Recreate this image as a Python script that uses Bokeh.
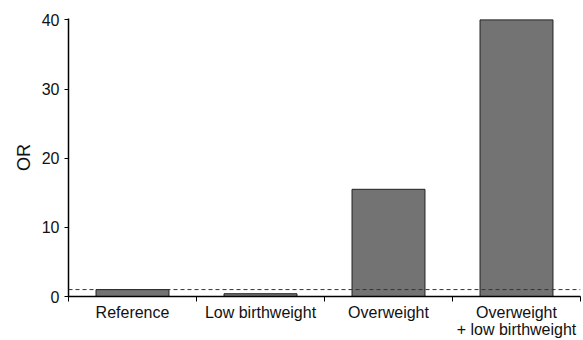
from bokeh.plotting import figure
from bokeh.models import FixedTicker, Span, Range1d
from bokeh.embed import file_html
from bokeh.resources import INLINE

categories = ["Reference", "Low birthweight", "Overweight", "Overweight\n+ low birthweight"]
odds_ratios = [1.0, 0.4, 15.5, 40.0]
y_ticks = [0, 10, 20, 30, 40]
reference_line = 1.0

FONT = "Liberation Sans"

x_centers = [i + 0.5 for i in range(len(categories))]
boundaries = list(range(len(categories) + 1))

p = figure(width=581, height=340, output_backend="svg", toolbar_location=None,
           x_range=Range1d(0, len(categories)), y_range=Range1d(0, 40.2),
           min_border_left=68, min_border_right=1, min_border_top=18, min_border_bottom=30)
p.outline_line_color = None
p.xgrid.visible = False
p.ygrid.visible = False

p.vbar(x=x_centers, top=odds_ratios, width=0.57, bottom=0,
       fill_color="#737373", line_color="#222222", line_width=1)

p.add_layout(Span(location=reference_line, dimension="width",
                  line_color="#333333", line_dash="4 3", line_width=1))

p.xaxis.ticker = FixedTicker(ticks=x_centers, minor_ticks=boundaries)
p.xaxis.major_label_overrides = {c: lab for c, lab in zip(x_centers, categories)}
p.xaxis.major_tick_line_color = None
p.xaxis.minor_tick_line_color = "black"
p.xaxis.minor_tick_out = 5
p.xaxis.minor_tick_in = 0
p.xaxis.axis_line_color = "black"
p.xaxis.axis_line_width = 1.5
p.xaxis.major_label_text_font = FONT
p.xaxis.major_label_text_font_size = "16px"
p.xaxis.major_label_text_line_height = 1.0
p.xaxis.major_label_text_color = "#111111"
p.xaxis.major_label_standoff = 1

p.yaxis.ticker = FixedTicker(ticks=y_ticks, minor_ticks=[])
p.yaxis.major_tick_out = 4
p.yaxis.major_tick_in = 0
p.yaxis.axis_line_width = 1.5
p.yaxis.major_label_text_font = FONT
p.yaxis.major_label_text_font_size = "16px"
p.yaxis.major_label_text_color = "#111111"
p.yaxis.major_label_standoff = 5
p.yaxis.axis_label = "OR"
p.yaxis.axis_label_text_font = FONT
p.yaxis.axis_label_text_font_size = "18px"
p.yaxis.axis_label_text_font_style = "normal"
p.yaxis.axis_label_text_color = "#111111"
p.yaxis.axis_label_standoff = 5

open("out.html", "w").write(file_html(p, INLINE))
